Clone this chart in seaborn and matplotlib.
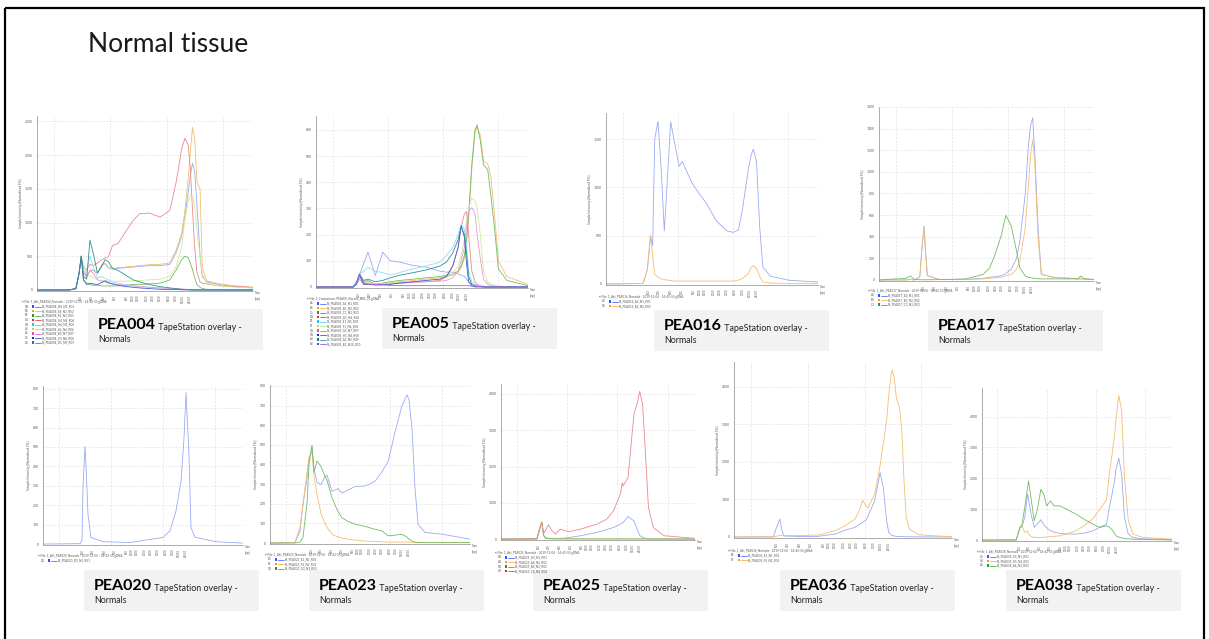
import matplotlib
matplotlib.use("Agg")
import matplotlib.pyplot as plt
from matplotlib.patches import Rectangle
from matplotlib.ticker import AutoMinorLocator
import seaborn as sns

W, H = 1209, 639

sns.set_theme(style="white")
plt.rcParams["font.family"] = ["Lato", "DejaVu Sans"]

# ---------------------------------------------------------------- size ladder
LADDER_BP = [100, 250, 400, 600, 900, 1200, 1500, 2000, 2500, 3000, 4000, 7000, 15000, 48500]
LADDER_FRAC = [0, 0.10, 0.21, 0.31, 0.42, 0.47, 0.52, 0.60, 0.66, 0.72, 0.80, 0.87, 0.93, 1.0]

# ---------------------------------------------------------------- PEA004
PEA004_X = [0, 15, 18, 19.5, 20.5, 21.5, 23, 24.5, 26, 28, 30, 31.5, 33, 35, 37.5, 41, 44.5, 47.5,
            52, 57, 61.5, 64.5, 67, 68.5, 70, 71, 72, 73, 74, 75.5, 76.5, 78.5, 84.5, 92, 100]
PEA004_BLUE = [0, 0, 20, 250, 500, 280, 190, 280, 290, 250, 370, 390, 330, 310, 320, 330, 340, 350,
               360, 360, 380, 560, 800, 1100, 1450, 1700, 1880, 1750, 1300, 500, 200, 120, 80, 50, 30]
PEA004_ORANGE = [0, 0, 20, 250, 500, 300, 200, 290, 300, 260, 380, 400, 340, 320, 330, 340, 350, 360,
                 375, 380, 400, 600, 840, 1180, 1660, 2050, 2410, 2250, 1610, 1490, 350, 135, 90, 60, 40]
PEA004_GREEN = [0, 0, 20, 250, 500, 150, 100, 80, 70, 70, 60, 60, 60, 60, 60, 70, 80, 80,
                90, 100, 150, 300, 450, 500, 480, 400, 300, 180, 80, 40, 20, 10, 5, 0, 0]
PEA004_RED = [0, 0, 20, 250, 500, 330, 300, 380, 360, 400, 450, 475, 490, 660, 690, 860, 1030, 1130,
              1140, 1080, 1180, 1610, 2100, 2250, 2150, 1800, 1180, 640, 260, 120, 100, 90, 60, 50, 40]
PEA004_CYAN = [0, 0, 20, 250, 500, 250, 300, 500, 350, 180, 200, 170, 150, 120, 100, 80, 60, 50,
               40, 30, 20, 10, 5, 5, 5, 3, 2, 2, 1, 0, 0, 0, 0, 0, 0]
PEA004_LIME = [0, 0, 20, 250, 500, 400, 230, 200, 190, 150, 140, 140, 130, 130, 130, 130, 135, 140,
               150, 160, 200, 350, 650, 1050, 1300, 1410, 1400, 1250, 900, 500, 250, 100, 60, 40, 30]
PEA004_PINK = [0, 0, 20, 250, 500, 250, 200, 290, 250, 150, 130, 120, 100, 90, 80, 70, 60, 50,
               40, 30, 25, 20, 15, 10, 8, 5, 5, 3, 2, 2, 1, 1, 0, 0, 0]
PEA004_NAVY = [0, 0, 20, 250, 500, 150, 80, 100, 90, 80, 110, 135, 110, 90, 70, 50, 40, 30,
               20, 10, 5, 5, 3, 2, 2, 1, 1, 0, 0, 0, 0, 0, 0, 0, 0]
PEA004_TEAL = [0, 0, 20, 250, 500, 200, 160, 740, 550, 250, 350, 450, 420, 320, 290, 220, 150, 120,
               80, 50, 30, 20, 10, 5, 5, 0, 0, 0, 0, 0, 0, 0, 0, 0, 0]

# ---------------------------------------------------------------- PEA005
PEA005_X = [0, 17.5, 19, 20.5, 22.5, 24.5, 28, 31.5, 35, 39.5, 46, 52, 58.5, 61.5, 64.5, 67,
            68.5, 70, 71, 72, 73.5, 75, 76, 77.5, 79, 81, 82.5, 84.5, 86, 90, 100]
PEA005_BLUE = [0, 0, 20, 45, 90, 133, 44, 133, 100, 95, 82, 76, 60, 57, 57, 50,
               45, 40, 30, 20, 10, 5, 3, 2, 0, 0, 0, 0, 0, 0, 0]
PEA005_ORANGE = [0, 0, 10, 45, 15, 20, 10, 12, 15, 20, 25, 30, 35, 40, 45, 55,
                 75, 110, 170, 260, 450, 590, 612, 580, 480, 470, 420, 250, 100, 40, 10]
PEA005_GREEN = [0, 0, 10, 40, 20, 25, 10, 15, 20, 25, 30, 35, 40, 45, 50, 60,
                80, 120, 180, 272, 470, 600, 619, 560, 467, 448, 350, 200, 70, 25, 5]
PEA005_RED = [0, 0, 10, 30, 10, 12, 10, 10, 12, 15, 18, 20, 25, 40, 80, 150,
              230, 280, 288, 200, 60, 20, 10, 5, 3, 0, 0, 0, 0, 0, 0]
PEA005_CYAN = [0, 0, 10, 50, 60, 75, 60, 55, 45, 55, 70, 80, 95, 120, 150, 200,
               240, 220, 150, 60, 20, 10, 5, 3, 2, 0, 0, 0, 0, 0, 0]
PEA005_LIME = [0, 0, 10, 40, 15, 20, 10, 12, 15, 18, 20, 25, 30, 35, 50, 80,
               120, 180, 250, 300, 338, 330, 300, 200, 60, 20, 10, 5, 3, 2, 0]
PEA005_PINK = [0, 0, 10, 30, 10, 15, 10, 10, 12, 15, 18, 20, 22, 25, 35, 60,
               100, 150, 230, 290, 303, 280, 200, 110, 30, 10, 5, 3, 2, 0, 0]
PEA005_NAVY = [0, 0, 10, 45, 10, 10, 8, 8, 10, 15, 20, 25, 30, 40, 80, 150,
               234, 190, 90, 20, 5, 0, 0, 0, 0, 0, 0, 0, 0, 0, 0]
PEA005_TEAL = [0, 0, 10, 50, 25, 30, 20, 25, 35, 45, 55, 65, 80, 95, 130, 180,
               230, 200, 130, 40, 10, 5, 3, 2, 0, 0, 0, 0, 0, 0, 0]
PEA005_PURPLE = [0, 0, 15, 50, 15, 10, 8, 8, 6, 5, 5, 5, 5, 5, 5, 5,
                 5, 5, 5, 5, 3, 3, 2, 2, 0, 0, 0, 0, 0, 0, 0]

# ---------------------------------------------------------------- PEA016
PEA016_X = [0, 17.5, 19.5, 21, 22, 23, 24.5, 26, 27.5, 29, 30.5, 32.5, 34.5, 36, 38, 40.5,
            43, 47.5, 52, 57, 60, 62.5, 64.5, 67, 68.5, 69.5, 71, 72.5, 74, 77.5, 86.5, 100]
PEA016_BLUE = [0, 5, 150, 500, 400, 1500, 1685, 1200, 550, 1100, 1680, 1445, 1220, 1270, 1170, 1050,
               965, 830, 655, 550, 535, 560, 790, 1170, 1340, 1395, 1270, 587, 175, 80, 38, 20]
PEA016_ORANGE = [0, 5, 150, 500, 300, 100, 70, 55, 45, 40, 35, 30, 30, 30, 30, 30,
                 30, 30, 30, 30, 30, 40, 60, 105, 170, 190, 160, 80, 20, 10, 5, 3]

# ---------------------------------------------------------------- PEA017
PEA017_X = [0, 12.5, 14.5, 16.5, 19, 20, 21, 21.5, 22.5, 28, 40.5, 48.5, 51.5, 54, 57, 59,
            61.5, 64, 65.5, 68, 69.5, 70.5, 71.5, 72.5, 74, 75.5, 81, 92.5, 94, 95.5, 100]
PEA017_BLUE = [0, 0, 5, 0, 30, 300, 500, 300, 40, 5, 5, 15, 25, 30, 40, 60,
               100, 200, 360, 788, 1247, 1430, 1500, 1155, 480, 52, 25, 10, 10, 8, 5]
PEA017_ORANGE = [0, 0, 5, 0, 30, 300, 490, 300, 40, 5, 5, 10, 15, 20, 25, 40,
                 50, 100, 175, 480, 880, 1155, 1300, 1060, 390, 52, 25, 10, 10, 8, 5]
PEA017_GREEN = [0, 15, 37, 5, 2, 2, 2, 2, 2, 3, 10, 52, 113, 236, 420, 598,
                500, 267, 113, 37, 25, 20, 18, 15, 12, 10, 10, 10, 37, 10, 5]

# ---------------------------------------------------------------- PEA020
PEA020_X = [0, 18.5, 19.5, 20, 21, 21.5, 22.5, 24, 30, 43.5, 60, 63.5, 66.5, 69, 70.5, 71.5,
            73, 74, 76, 86.5, 100]
PEA020_BLUE = [0, 2, 20, 290, 502, 408, 153, 34, 12, 8, 34, 68, 170, 323, 545, 780,
               460, 85, 35, 12, 5]

# ---------------------------------------------------------------- PEA023
PEA023_X = [0, 12.5, 15, 16.5, 18.5, 19.5, 21, 22, 23.5, 25.5, 27, 28.5, 31, 34, 36, 39,
            42.5, 47.5, 52.5, 56, 59, 62.5, 66, 68.5, 69.5, 71, 72.5, 74, 77.5, 86, 100]
PEA023_BLUE = [0, 3, 60, 200, 330, 420, 490, 380, 310, 297, 330, 347, 263, 277, 255, 270,
               288, 290, 314, 364, 414, 565, 700, 755, 730, 582, 280, 96, 54, 45, 20]
PEA023_ORANGE = [0, 3, 80, 196, 360, 440, 465, 340, 247, 150, 112, 80, 45, 30, 25, 20,
                 15, 10, 8, 6, 5, 5, 5, 5, 5, 3, 3, 2, 2, 2, 2]
PEA023_GREEN = [0, 0, 5, 30, 200, 400, 498, 360, 418, 390, 350, 320, 230, 160, 129, 110,
                96, 85, 70, 62, 37, 40, 45, 30, 20, 10, 5, 3, 2, 2, 2]

# ---------------------------------------------------------------- PEA025
PEA025_X = [0, 18.5, 19.5, 21, 22, 23, 24.5, 26, 28, 30.5, 32, 35, 41, 49.5, 54.5,
            58, 61.5, 62.5, 63, 65.5, 68.5, 70.5, 71.5, 73, 74.5, 76, 78.5, 84, 100]
PEA025_BLUE = [0, 5, 200, 458, 100, 30, 20, 20, 20, 20, 25, 40, 92, 183, 260,
               320, 410, 440, 458, 622, 500, 229, 100, 40, 20, 10, 5, 3, 2]
PEA025_ORANGE = [0, 5, 220, 480, 90, 20, 10, 8, 6, 5, 5, 5, 5, 5, 5,
                 5, 5, 5, 5, 5, 5, 5, 5, 3, 2, 2, 2, 1, 0]
PEA025_GREEN = [0, 5, 200, 470, 100, 20, 10, 8, 6, 5, 5, 5, 5, 5, 5,
                5, 5, 5, 5, 5, 5, 5, 5, 3, 2, 2, 2, 1, 0]
PEA025_RED = [0, 5, 200, 476, 150, 250, 394, 250, 137, 275, 250, 200, 275, 412, 550,
              778, 1236, 1556, 1464, 1700, 3432, 3800, 4073, 3707, 2334, 870, 320, 92, 20]

# ---------------------------------------------------------------- PEA036
PEA036_X = [0, 18, 19.5, 21, 22, 23, 31, 38.5, 46.5, 51, 55.5, 57.5, 59, 60.5, 61.5, 63, 64.5,
            66, 67, 68.5, 70, 71, 72, 72.5, 73.5, 74.5, 76, 77, 78, 79, 80.5, 84.5, 92, 100]
PEA036_BLUE = [0, 2, 250, 477, 170, 25, 12, 15, 80, 180, 256, 330, 388, 450, 565, 760, 962,
               1404, 1713, 1316, 433, 120, 60, 40, 25, 18, 12, 10, 8, 6, 4, 3, 2, 1]
PEA036_ORANGE = [0, 2, 20, 40, 35, 35, 40, 50, 168, 300, 477, 700, 980, 830, 770, 962, 1140,
                 1580, 1900, 2500, 3100, 3790, 4300, 4450, 4240, 3700, 3435, 2817, 1490, 521, 212, 60, 30, 10]

# ---------------------------------------------------------------- PEA038
PEA038_X = [0, 18, 20, 21, 22.5, 24, 24.5, 26, 27.5, 29, 31, 32.5, 34, 36, 38, 41, 44.5,
            49.5, 55, 58.5, 62, 65.5, 67, 68.5, 70, 70.5, 72, 73.5, 75, 77, 79.5, 84.5, 100]
PEA038_BLUE = [0, 5, 408, 430, 730, 1484, 1300, 800, 408, 516, 656, 500, 400, 301, 260, 215, 200,
               193, 240, 301, 420, 516, 1054, 1500, 2021, 2300, 2650, 2129, 730, 193, 80, 40, 20]
PEA038_ORANGE = [0, 5, 408, 462, 247, 301, 200, 107, 90, 86, 86, 90, 100, 110, 120, 140, 200,
                 301, 516, 700, 1000, 1300, 2129, 2800, 3526, 3900, 4687, 4200, 2021, 624, 193, 86, 30]
PEA038_GREEN = [0, 5, 408, 494, 1054, 1700, 1914, 1268, 624, 946, 1645, 1484, 1107, 1268, 1107, 1107, 1000,
                838, 624, 516, 408, 462, 420, 330, 200, 140, 100, 70, 50, 40, 30, 20, 5]

# ---------------------------------------------------------------- colours
TRACE_COLORS = {
    "blue": "#9aaaf0", "orange": "#f5bd72", "green": "#72bb64", "red": "#ea8a8d",
    "cyan": "#95dcf0", "lime": "#cdeb98", "pink": "#eb98dc", "navy": "#4a58d8",
    "teal": "#2a9494", "purple": "#a464e2",
}
KEY_COLORS = {
    "blue": "#2f55ff", "orange": "#ff9a1f", "green": "#1f9e2a", "red": "#f02020",
    "cyan": "#20c8f0", "lime": "#a8e040", "pink": "#f040c8", "navy": "#1a2ad0",
    "teal": "#0f8080", "purple": "#8a30e0",
}

# (sample, x, axes px rect, y-range, y-step, ladder start/end, caption box, legend origin, run file, traces)
PANELS = [
    ("PEA004", PEA004_X, (37, 116, 253, 291), 2580, 500, (20.5, 71), (88, 309), (22, 302),
     "1_Akt_PEA004_Normals - 2019-12-06 - 14-42-55.gDNA",
     [("D4", "blue", PEA004_BLUE), ("E4", "orange", PEA004_ORANGE), ("F4", "green", PEA004_GREEN),
      ("G4", "red", PEA004_RED), ("H4", "cyan", PEA004_CYAN), ("A5", "lime", PEA004_LIME),
      ("B5", "pink", PEA004_PINK), ("C5", "navy", PEA004_NAVY), ("D5", "teal", PEA004_TEAL)]),
    ("PEA005", PEA005_X, (316, 116, 528, 288), 653, 100, (20.1, 71), (382, 308), (307, 299),
     "2_Comparison_PEA005_Normal_NRS_21.gDNA",
     [("A1", "blue", PEA005_BLUE), ("B1", "orange", PEA005_ORANGE), ("C1", "green", PEA005_GREEN),
      ("D1", "red", PEA005_RED), ("E1", "cyan", PEA005_CYAN), ("F1", "lime", PEA005_LIME),
      ("G1", "pink", PEA005_PINK), ("H1", "navy", PEA005_NAVY), ("A2", "teal", PEA005_TEAL),
      ("B2", "purple", PEA005_PURPLE)]),
    ("PEA016", PEA016_X, (606, 113, 818, 285), 1771, 500, (20, 71.3), (654, 310), (599, 297),
     "1_Akt_PEA016_Normals - 2019-12-06 - 14-42-55.gDNA",
     [("A2", "blue", PEA016_BLUE), ("B2", "orange", PEA016_ORANGE)]),
    ("PEA017", PEA017_X, (879, 107, 1094, 281), 1600, 200, (20.8, 71.3), (928, 310), (868, 291),
     "1_Akt_PEA017_Normals - 2019-12-06 - 14-42-55.gDNA",
     [("A3", "blue", PEA017_BLUE), ("B3", "orange", PEA017_ORANGE), ("C3", "green", PEA017_GREEN)]),
    ("PEA020", PEA020_X, (43, 386, 243, 545), 814, 100, (20, 71.7), (84, 570), (38, 556),
     "1_Akt_PEA020_Normals - 2019-12-06 - 14-42-55.gDNA",
     [("D3", "blue", PEA020_BLUE)]),
    ("PEA023", PEA023_X, (270, 385, 470, 544), 805, 100, (20.8, 69.5), (309, 570), (265, 555),
     "1_Akt_PEA023_Normals - 2019-12-06 - 14-42-55.gDNA",
     [("E3", "blue", PEA023_BLUE), ("F3", "orange", PEA023_ORANGE), ("G3", "green", PEA023_GREEN)]),
    ("PEA025", PEA025_X, (501, 384, 695, 540), 4274, 1000, (19.7, 71.7), (533, 570), (495, 553),
     "1_Akt_PEA025_Normals - 2019-12-06 - 14-42-55.gDNA",
     [("H3", "blue", PEA025_BLUE), ("A4", "orange", PEA025_ORANGE), ("B4", "green", PEA025_GREEN),
      ("C4", "red", PEA025_RED)]),
    ("PEA036", PEA036_X, (734, 362, 952, 538), 4662, 1000, (19.5, 71), (780, 570), (728, 551),
     "1_Akt_PEA036_Normals - 2019-12-06 - 14-42-55.gDNA",
     [("E5", "blue", PEA036_BLUE), ("F5", "orange", PEA036_ORANGE)]),
    ("PEA038", PEA038_X, (982, 388, 1172, 541), 4924, 1000, (19.8, 71), (1006, 570), (977, 552),
     "1_Akt_PEA038_Normals - 2019-12-06 - 14-42-55.gDNA",
     [("G5", "blue", PEA038_BLUE), ("H5", "orange", PEA038_ORANGE), ("A6", "green", PEA038_GREEN)]),
]

fig = plt.figure(figsize=(W / 100, H / 100), dpi=100)
fig.patch.set_facecolor("white")

# full-slide layer in pixel coordinates
bg = fig.add_axes([0, 0, 1, 1])
bg.set_xlim(0, W)
bg.set_ylim(H, 0)
bg.set_autoscale_on(False)
bg.axis("off")

bg.add_patch(Rectangle((5, 8), 1199, 700, fill=False, edgecolor="black", lw=1.6))
bg.text(88, 52, "Normal tissue", fontsize=19, fontweight="normal", color="#1a1a1a", va="baseline")

TINY = 2.4
GREY = "#5a5a5a"

for (sample, xs, (l, t, r, b), ytop, ystep, (m0, m1), (bx, by), (lx, ly), run, traces) in PANELS:
    ax = fig.add_axes([l / W, 1 - b / H, (r - l) / W, (b - t) / H])
    ax.set_facecolor("white")
    for well, key, ys in traces:
        sns.lineplot(x=xs, y=ys, ax=ax, color=TRACE_COLORS[key], lw=0.6,
                     estimator=None, sort=False, legend=False)
    ax.set_xlim(0, 100)
    ax.set_ylim(-ytop * 0.006, ytop)

    yticks = list(range(0, int(ytop) + 1, ystep))
    ax.set_yticks(yticks)
    ax.set_yticklabels([str(v) for v in yticks], fontsize=TINY, color=GREY)
    ax.yaxis.set_minor_locator(AutoMinorLocator(5))
    ax.tick_params(axis="y", which="major", length=2, width=0.4, color="#888888", pad=1)
    ax.tick_params(axis="y", which="minor", length=1, width=0.3, color="#999999")

    ladder = [m0 + (m1 - m0) * f for f in LADDER_FRAC]
    ax.set_xticks(ladder)
    ax.set_xticklabels([str(v) for v in LADDER_BP], rotation=90, fontsize=2.0, color=GREY)
    ax.tick_params(axis="x", length=2, width=0.3, color="#888888", pad=0.8)

    for gx in (8, 34, 60, 86):
        ax.axvline(gx, color="#e0e0e0", lw=0.5, ls=(0, (3, 2)), zorder=0)
    for gy in yticks[1:]:
        ax.axhline(gy, color="#e0e0e0", lw=0.5, ls=(0, (3, 2)), zorder=0)

    for s in ("top", "right"):
        ax.spines[s].set_visible(False)
    for s in ("left", "bottom"):
        ax.spines[s].set_color("#8a8a8a")
        ax.spines[s].set_linewidth(0.5)

    ax.set_xlabel("")
    ax.set_ylabel("Sample Intensity [Normalized FU]", fontsize=TINY, color=GREY, labelpad=1.5)
    ax.text(1.01, 0.0, "Size\n[bp]", transform=ax.transAxes, fontsize=TINY, color=GREY,
            va="top", ha="left", linespacing=1.6)

    # run legend under the trace
    bg.text(lx, ly, "\u2022 File: " + run, fontsize=2.2, color=GREY, va="center")
    for i, (well, key, _) in enumerate(traces):
        yy = ly + 4.5 * (i + 1)
        bg.text(lx + 3, yy, well, fontsize=2.2, color=GREY, va="center")
        bg.add_patch(Rectangle((lx + 10, yy - 1.4), 2.2, 2.8, facecolor=KEY_COLORS[key], lw=0))
        bg.plot([lx + 12.5, lx + 19], [yy, yy], color=KEY_COLORS[key], lw=0.5)
        bg.text(lx + 19.5, yy, f"PL_{sample}_{well}_N{i + 1}_R{i + 1:02d}", fontsize=2.2,
                color=GREY, va="center")

    # caption box
    bg.add_patch(Rectangle((bx, by), 175, 41, facecolor="#f2f2f2", edgecolor="none"))
    t1 = bg.text(bx + 10, by + 20, sample, fontsize=11.5, fontweight="bold", color="black",
                 va="baseline")
    bg.annotate(" TapeStation overlay -", xy=(1, 0), xycoords=t1, fontsize=6.4,
                color="#222222", va="bottom", ha="left")
    bg.text(bx + 10, by + 33, "Normals", fontsize=6.4, color="#222222", va="baseline")

fig.savefig("out.png", dpi=100, facecolor="white")
